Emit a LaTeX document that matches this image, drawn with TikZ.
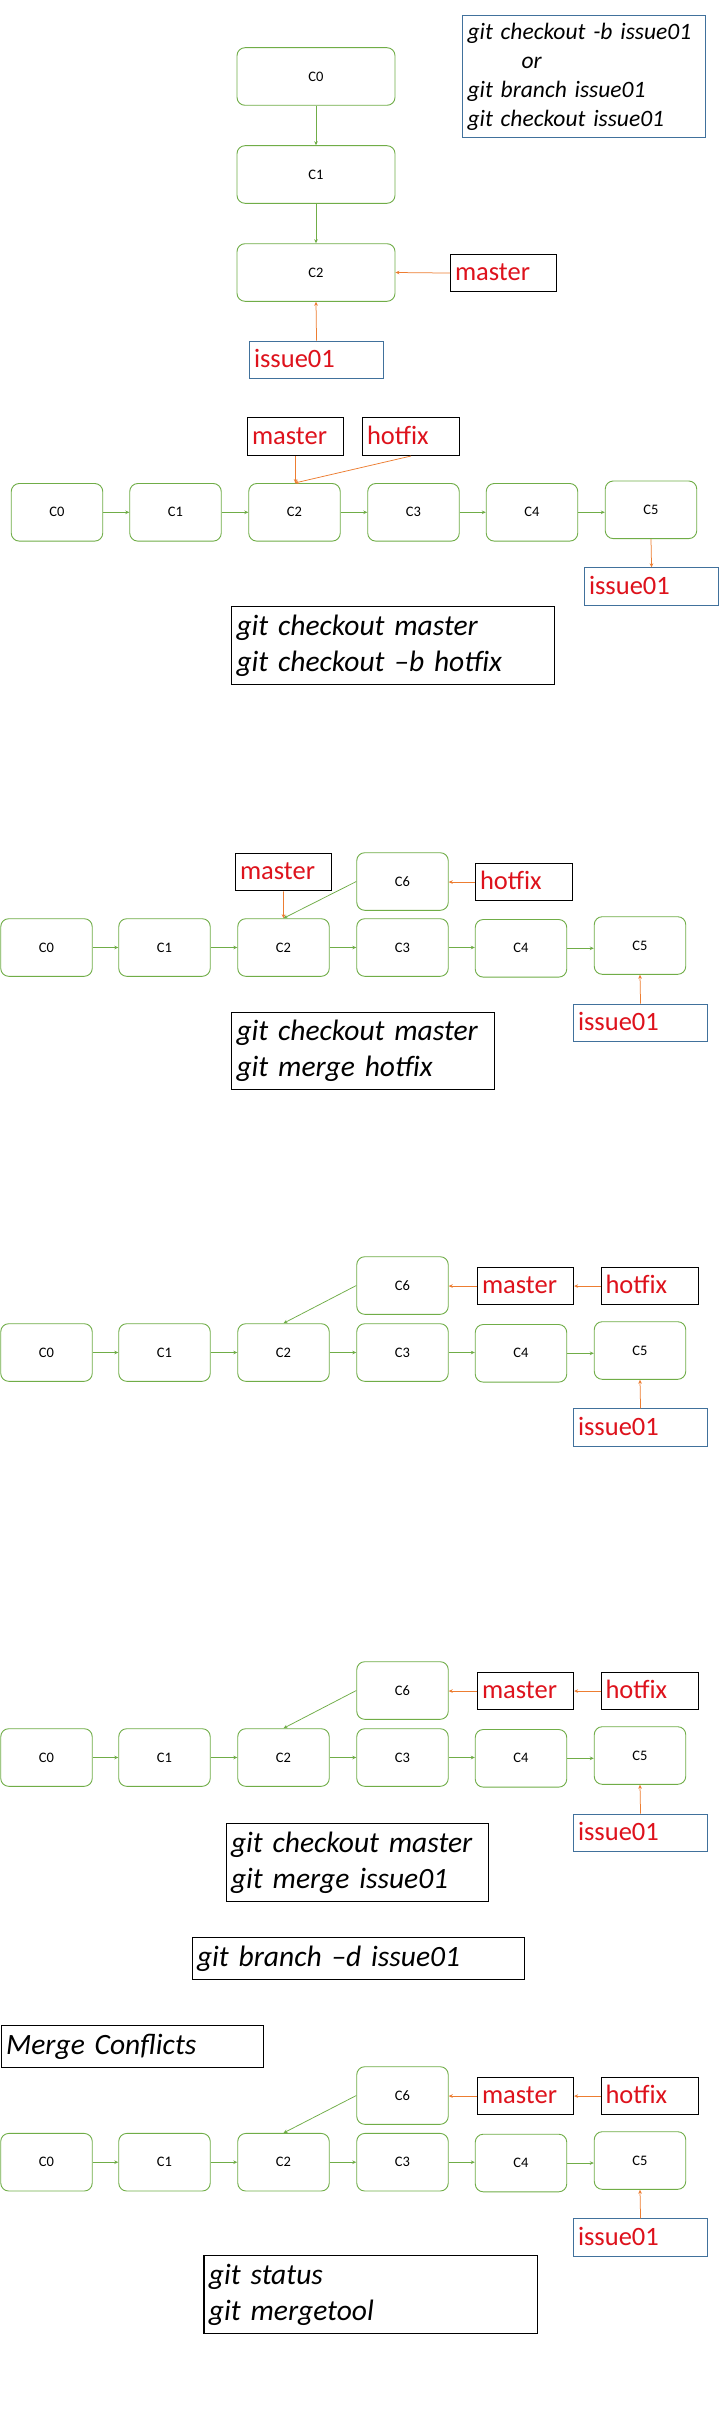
\documentclass[tikz,border=0pt]{standalone}
\usepackage{fontspec}
\setmainfont{Carlito}
\usetikzlibrary{arrows.meta}
\definecolor{cgreen}{HTML}{70AD47}
\definecolor{corange}{HTML}{ED7D31}
\definecolor{cblue}{HTML}{41719C}
\definecolor{tred}{RGB}{222,18,28}
\newcommand\cfnt{\fontsize{14.5}{17}\selectfont}
\newcommand\lfnt{\fontsize{26.5}{32}\selectfont}
\newcommand\sfnt{\fontsize{23.5}{28.8}\selectfont\itshape}
\newcommand\bfnt{\fontsize{29.5}{36}\selectfont\itshape}
\begin{document}
\begin{tikzpicture}[x=1pt,y=-1pt,
  cbox/.style={draw=cgreen, line width=0.9pt, rounded corners=8pt, minimum width=91.5pt, minimum height=57.6pt, inner sep=0pt, font=\cfnt},
  lbl/.style={draw=black, line width=1.1pt, anchor=north west, inner xsep=4.5pt, inner ysep=0pt, align=left, text=tred, font=\lfnt, text height=21pt, text depth=5.5pt, minimum height=37.6pt},
  mbox/.style={lbl, text width=87pt},
  hbox/.style={lbl, text width=88pt},
  ibox/.style={lbl, draw=cblue, text width=125pt},
  cmd/.style={draw=black, line width=1.1pt, anchor=north west, inner xsep=5pt, inner ysep=0pt, align=left, font=\bfnt},
  garr/.style={draw=cgreen, line width=0.75pt, -{Stealth[length=4pt,width=3.6pt]}},
  oarr/.style={draw=corange, line width=0.75pt, -{Stealth[length=4pt,width=3.6pt]}}]
\useasboundingbox[fill=white] (0,0) rectangle (720,2430);

% ---------- Section 1 ----------
\node[cbox, minimum width=158pt] (a0) at (316,76.5) {C0};
\node[cbox, minimum width=158pt] (a1) at (316,174.5) {C1};
\node[cbox, minimum width=158pt] (a2) at (316,272.5) {C2};
\node[mbox, minimum width=106pt, text width=97pt] (am) at (450,253.7) {master};
\node[ibox] (ai) at (249,340.7) {issue01};
\node[cmd, draw=cblue, font=\sfnt, text width=233pt, minimum height=121.7pt] (ac) at (462,15.3)
  {git checkout -b issue01\\\hspace*{54pt}or\\git branch issue01\\git checkout issue01};
\draw[garr] (a0) -- (a1);
\draw[garr] (a1) -- (a2);
\draw[oarr] (am.west) -- (a2.east);
\draw[oarr] (ai.north) -- (a2.south);

% ---------- Section 2 ----------
\node[cbox] (b0) at (57,512.3) {C0};
\node[cbox] (b1) at (175.5,512.3) {C1};
\node[cbox] (b2) at (294.5,512.3) {C2};
\node[cbox] (b3) at (413.5,512.3) {C3};
\node[cbox] (b4) at (532,512.3) {C4};
\node[cbox] (b5) at (651,509.8) {C5};
\node[mbox] (bm) at (247,417.3) {master};
\node[hbox] (bh) at (362,417.3) {hotfix};
\node[ibox] (bi) at (584,567.3) {issue01};
\node[cmd, text width=313pt, minimum height=78pt] (bc) at (231,606.3)
  {git checkout master\\git checkout –b hotfix};
\foreach \p/\q in {b0/b1,b1/b2,b2/b3,b3/b4,b4/b5}
  \draw[garr] (\p.east) -- (\p.east -| \q.west);
\draw[oarr] (bm.south) -- (bm.south |- b2.north);
\draw[oarr] (bh.south) -- (b2.north);
\draw[oarr] (b5.south) -- (bi.north);

% ---------- Section 3 ----------
\node[cbox] (c0) at (46.5,947.5) {C0};
\node[cbox] (c1) at (164.5,947.5) {C1};
\node[cbox] (c2) at (283.5,947.5) {C2};
\node[cbox] (c3) at (402.5,947.5) {C3};
\node[cbox] (c4) at (521,948.3) {C4};
\node[cbox] (c5) at (640,945.5) {C5};
\node[cbox] (c6) at (402.5,881.5) {C6};
\node[mbox] (cm) at (235,852.7) {master};
\node[hbox] (ch) at (475,862.7) {hotfix};
\node[ibox] (ci) at (573,1003.7) {issue01};
\node[cmd, text width=253pt, minimum height=77.6pt] (cc) at (231,1011.7)
  {git checkout master\\git merge hotfix};
\foreach \p/\q in {c0/c1,c1/c2,c2/c3,c3/c4,c4/c5}
  \draw[garr] (\p.east) -- (\p.east -| \q.west);
\draw[garr] (c6.west) -- (c2.north);
\draw[oarr] (cm.south) -- (c2.north);
\draw[oarr] (ch.west) -- (ch.west -| c6.east);
\draw[oarr] (ci.north) -- (c5.south);

% ---------- Section 4 ----------
\node[cbox] (d0) at (46.5,1352.5) {C0};
\node[cbox] (d1) at (164.5,1352.5) {C1};
\node[cbox] (d2) at (283.5,1352.5) {C2};
\node[cbox] (d3) at (402.5,1352.5) {C3};
\node[cbox] (d4) at (521,1353.3) {C4};
\node[cbox] (d5) at (640,1350.5) {C5};
\node[cbox] (d6) at (402.5,1285.5) {C6};
\node[mbox] (dm) at (477,1266.7) {master};
\node[hbox] (dh) at (600.5,1266.7) {hotfix};
\node[ibox] (di) at (573,1408.3) {issue01};
\foreach \p/\q in {d0/d1,d1/d2,d2/d3,d3/d4,d4/d5}
  \draw[garr] (\p.east) -- (\p.east -| \q.west);
\draw[garr] (d6.west) -- (d2.north);
\draw[oarr] (dh.west) -- (dm.east);
\draw[oarr] (dm.west) -- (dm.west -| d6.east);
\draw[oarr] (di.north) -- (d5.south);

% ---------- Section 5 ----------
\node[cbox] (e0) at (46.5,1757.5) {C0};
\node[cbox] (e1) at (164.5,1757.5) {C1};
\node[cbox] (e2) at (283.5,1757.5) {C2};
\node[cbox] (e3) at (402.5,1757.5) {C3};
\node[cbox] (e4) at (521,1758.3) {C4};
\node[cbox] (e5) at (640,1755.5) {C5};
\node[cbox] (e6) at (402.5,1690.5) {C6};
\node[mbox] (em) at (477,1671.7) {master};
\node[hbox] (eh) at (600.5,1671.7) {hotfix};
\node[ibox] (ei) at (573,1813.7) {issue01};
\node[cmd, text width=252.5pt, minimum height=77.7pt] (ec) at (225.5,1823.3)
  {git checkout master\\git merge issue01};
\node[cmd, text width=322.5pt, minimum height=42pt] (ed) at (191.5,1937.3)
  {git branch –d issue01};
\foreach \p/\q in {e0/e1,e1/e2,e2/e3,e3/e4,e4/e5}
  \draw[garr] (\p.east) -- (\p.east -| \q.west);
\draw[garr] (e6.west) -- (e2.north);
\draw[oarr] (eh.west) -- (em.east);
\draw[oarr] (em.west) -- (em.west -| e6.east);
\draw[oarr] (ei.north) -- (e5.south);

% ---------- Section 6 ----------
\node[cmd, text width=252pt, minimum height=42pt] (mc) at (0.6,2025.3) {Merge Conflicts};
\node[cbox] (f0) at (46.5,2162.2) {C0};
\node[cbox] (f1) at (164.5,2162.2) {C1};
\node[cbox] (f2) at (283.5,2162.2) {C2};
\node[cbox] (f3) at (402.5,2162.2) {C3};
\node[cbox] (f4) at (521,2163) {C4};
\node[cbox] (f5) at (640,2160.5) {C5};
\node[cbox] (f6) at (402.5,2095.5) {C6};
\node[mbox] (fm) at (477,2076.7) {master};
\node[hbox] (fh) at (600.5,2076.7) {hotfix};
\node[ibox] (fi) at (573,2218.3) {issue01};
\node[cmd, text width=323.6pt, minimum height=78pt] (fc) at (203.4,2255.3)
  {git status\\git mergetool};
\foreach \p/\q in {f0/f1,f1/f2,f2/f3,f3/f4,f4/f5}
  \draw[garr] (\p.east) -- (\p.east -| \q.west);
\draw[garr] (f6.west) -- (f2.north);
\draw[oarr] (fh.west) -- (fm.east);
\draw[oarr] (fm.west) -- (fm.west -| f6.east);
\draw[oarr] (fi.north) -- (f5.south);
\end{tikzpicture}
\end{document}
